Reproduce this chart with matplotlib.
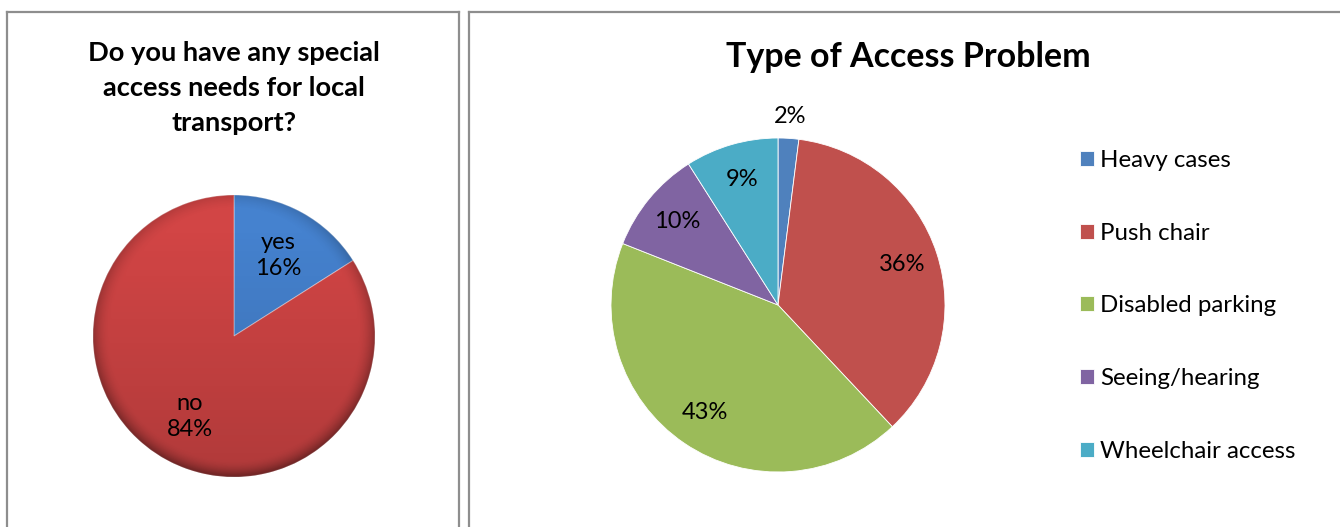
import numpy as np
import matplotlib
matplotlib.use("Agg")
import matplotlib.pyplot as plt
from matplotlib.lines import Line2D
from matplotlib.patches import Circle

# ---- data ----
left_title = "Do you have any special\naccess needs for local\ntransport?"
left_labels = ["yes", "no"]
left_values = [16, 84]
left_colors = ["#4582CF", "#D24545"]

right_title = "Type of Access Problem"
right_labels = ["Heavy cases", "Push chair", "Disabled parking", "Seeing/hearing", "Wheelchair access"]
right_values = [2, 36, 43, 10, 9]
right_colors = ["#4F81BD", "#C0504D", "#9BBB59", "#8064A2", "#4BACC6"]

plt.rcParams['font.family'] = ['Lato', 'DejaVu Sans']

W, H = 1340, 527
DPI = 100
fig = plt.figure(figsize=(W / DPI, H / DPI), dpi=DPI)
fig.patch.set_facecolor("white")


def fx(px):
    return px / W


def fy(py):
    return 1 - py / H


PAD = 1.3


def pie_axes(cx, cy, r):
    size = 2 * r * PAD
    ax = fig.add_axes([fx(cx - size / 2), fy(cy + size / 2), size / W, size / H])
    return ax


def fix_axes(ax):
    ax.set_xlim(-PAD, PAD)
    ax.set_ylim(-PAD, PAD)
    ax.set_aspect("equal")
    ax.axis("off")


# ---- panel borders ----
bc = "#8E8E8E"
lw = 1.6
for xs, ys in [([7, 7], [12, 540]), ([7, 459], [12, 12]), ([459, 459], [12, 540]),
               ([469, 469], [12, 540]), ([469, 1350], [12, 12])]:
    fig.add_artist(Line2D([fx(x) for x in xs], [fy(y) for y in ys], color=bc, lw=lw,
                          transform=fig.transFigure))

# ---- left pie ----
axL = pie_axes(234, 336, 141)
wL, _ = axL.pie(left_values, colors=left_colors, startangle=90, counterclock=False,
                radius=1.0, wedgeprops=dict(linewidth=0.8, edgecolor=(1, 1, 1, 0.35)))
fix_axes(axL)
# bevel-like shading overlay
n = 400
yy, xx = np.mgrid[1:-1:complex(n), -1:1:complex(n)]
rr = np.sqrt(xx ** 2 + yy ** 2)
rim = np.clip((rr - 0.88) / 0.12, 0, 1) ** 1.8
dark = 0.07 + 0.09 * (-yy) + rim * (0.24 - 0.10 * yy)
dark = np.clip(dark, 0, 0.45)
shade = np.zeros((n, n, 4))
shade[..., 3] = dark
im = axL.imshow(shade, extent=[-1, 1, -1, 1], origin="upper", zorder=3, interpolation="bilinear")
im.set_clip_path(Circle((0, 0), 1.0, transform=axL.transData))
fix_axes(axL)

tot = sum(left_values)
for w, lab, v in zip(wL, left_labels, left_values):
    ang = np.deg2rad((w.theta1 + w.theta2) / 2)
    d = 0.65
    axL.text(d * np.cos(ang), d * np.sin(ang), f"{lab}\n{v / tot * 100:.0f}%",
             ha="center", va="center", fontsize=17, linespacing=1.3, zorder=5)

fig.text(fx(234), fy(88), left_title, ha="center", va="center", fontsize=19.6,
         fontweight="bold", linespacing=1.55)

# ---- right pie ----
axR = pie_axes(778, 305, 167)
wR, _ = axR.pie(right_values, colors=right_colors, startangle=90, counterclock=False,
                radius=1.0, wedgeprops=dict(linewidth=0.6, edgecolor="white"))
fix_axes(axR)
tot = sum(right_values)
for i, (w, v) in enumerate(zip(wR, right_values)):
    ang = np.deg2rad((w.theta1 + w.theta2) / 2)
    d = 0.78 if v / tot > 0.05 else 1.13
    axR.text(d * np.cos(ang), d * np.sin(ang), f"{v / tot * 100:.0f}%",
             ha="center", va="center", fontsize=17)

fig.text(fx(908), fy(57), right_title, ha="center", va="center", fontsize=24.5,
         fontweight="bold")

fig.legend(wR, right_labels, loc="upper left", bbox_to_anchor=(fx(1080), fy(150)),
           frameon=False, fontsize=17.3, handlelength=0.58, handleheight=0.58,
           handletextpad=0.25, labelspacing=2.15, borderpad=0, borderaxespad=0)

fig.savefig("out.png", dpi=DPI, facecolor="white")
